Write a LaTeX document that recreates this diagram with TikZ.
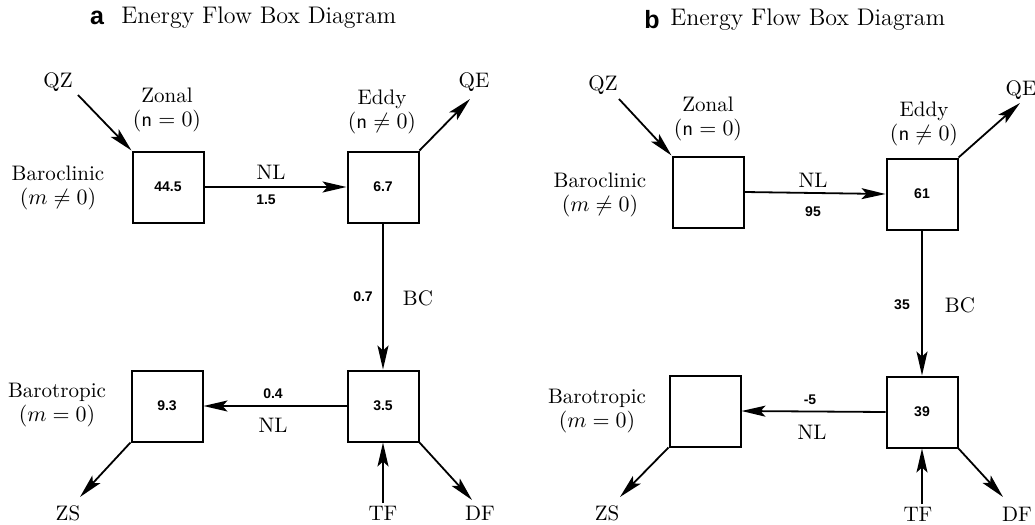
\documentclass[tikz,border=0pt]{standalone}
\usepackage{amsmath,amssymb}
\usepackage{fontspec}
\newfontfamily\numfont{Liberation Sans}
\usetikzlibrary{arrows.meta, positioning}

\tikzset{
  ebox/.style={draw, line width=1pt, minimum size=35.5pt, inner sep=0pt,
    font=\numfont\bfseries\fontsize{7}{8}\selectfont},
  lbl/.style={font=\fontsize{10.5}{12}\selectfont, align=center, inner sep=0pt},
  num/.style={font=\numfont\bfseries\fontsize{7}{8}\selectfont, inner sep=0pt},
  flow/.style={->, line width=0.9pt},
  ttl/.style={font=\fontsize{12}{14}\selectfont, inner sep=0pt, anchor=west},
  tag/.style={font=\numfont\bfseries\fontsize{12.5}{14}\selectfont, inner sep=0pt}
}

\begin{document}
\begin{tikzpicture}[x=0.5pt, y=-0.5pt, >={Stealth[length=12pt, width=5.5pt, inset=2.5pt]}]

\useasboundingbox (0,0) rectangle (1035,525);

% ---------------- Panel a ----------------
\node[tag] (tagA) at (97,18) {a};
\node[ttl] (titleA) at (121,18) {Energy Flow Box Diagram};

% Boxes
\node[ebox] (zonA) at (168,187) {44.5};
\node[ebox] (eddA) at (383,187) {6.7};
\node[ebox] (ebtA) at (383,406) {3.5};
\node[ebox] (btrA) at (167,406) {9.3};

% Box labels
\node[lbl] (zlabA) at (167,110) {Zonal\\$(\textsf{n} = 0)$};
\node[lbl] (elabA) at (382,112) {Eddy\\$(\textsf{n} \neq 0)$};
\node[lbl] (bclA) at (58,188) {Baroclinic\\$(m \neq 0)$};
\node[lbl] (btpA) at (57,405) {Barotropic\\$(m = 0)$};

% Sources and sinks
\node[lbl] (qzA) at (58,82) {QZ};
\coordinate (qzsA) at (78,95);
\node[lbl] (qeA) at (474,82) {QE};
\coordinate (qeeA) at (470,99);
\node[lbl] (zsA) at (68,513) {ZS};
\coordinate (zseA) at (80,497);
\node[lbl] (tfA) at (383,513) {TF};
\coordinate (tfsA) at (383,503);
\node[lbl] (dfA) at (480,513) {DF};
\coordinate (dfeA) at (472,500);

% Flows
\draw[flow] (qzsA) -- (zonA.north west);
\draw[flow] (eddA.north east) -- (qeeA);
\draw[flow] (zonA.east) -- (eddA.west);
\draw[flow] (eddA.south) -- (ebtA.north);
\draw[flow] (ebtA.west) -- (btrA.east);
\draw[flow] (btrA.south west) -- (zseA);
\draw[flow] (tfsA) -- (ebtA.south);
\draw[flow] (ebtA.south east) -- (dfeA);

% Flow labels
\node[lbl] (nl1A) at (271,172) {NL};
\node[num] (v1A) at (266,200) {1.5};
\node[num] (v2A) at (363,297) {0.7};
\node[lbl] (bcA) at (418,298) {BC};
\node[num] (v3A) at (273,394) {0.4};
\node[lbl] (nl2A) at (273,425) {NL};

% ---------------- Panel b ----------------
\node[tag] (tagB) at (652,20) {b};
\node[ttl] (titleB) at (670,20) {Energy Flow Box Diagram};

% Boxes
\node[ebox] (zonB) at (708,192) {};
\node[ebox] (eddB) at (922,194) {61};
\node[ebox] (ebtB) at (922,412) {39};
\node[ebox] (btrB) at (705,411) {};

% Box labels
\node[lbl] (zlabB) at (708,119) {Zonal\\$(\textsf{n} = 0)$};
\node[lbl] (elabB) at (924,124) {Eddy\\$(\textsf{n} \neq 0)$};
\node[lbl] (bclB) at (600,195) {Baroclinic\\$(m \neq 0)$};
\node[lbl] (btpB) at (597,411) {Barotropic\\$(m = 0)$};

% Sources and sinks
\node[lbl] (qzB) at (603,85) {QZ};
\coordinate (qzsB) at (619,99);
\node[lbl] (qeB) at (1021,90) {QE};
\coordinate (qeeB) at (1020,103);
\node[lbl] (zsB) at (607,513) {ZS};
\coordinate (zseB) at (620,497);
\node[lbl] (tfB) at (918,514) {TF};
\coordinate (tfsB) at (922,504);
\node[lbl] (dfB) at (1017,514) {DF};
\coordinate (dfeB) at (1003,497);

% Flows
\draw[flow] (qzsB) -- (zonB.north west);
\draw[flow] (eddB.north east) -- (qeeB);
\draw[flow] (zonB.east) -- (eddB.west);
\draw[flow] (eddB.south) -- (ebtB.north);
\draw[flow] (ebtB.west) -- (btrB.east);
\draw[flow] (btrB.south west) -- (zseB);
\draw[flow] (tfsB) -- (ebtB.south);
\draw[flow] (ebtB.south east) -- (dfeB);

% Flow labels
\node[lbl] (nl1B) at (813,180) {NL};
\node[num] (v1B) at (813,212) {95};
\node[num] (v2B) at (902,305) {35};
\node[lbl] (bcB) at (960,305) {BC};
\node[num] (v3B) at (810,400) {-5};
\node[lbl] (nl2B) at (812,432) {NL};

\end{tikzpicture}
\end{document}
